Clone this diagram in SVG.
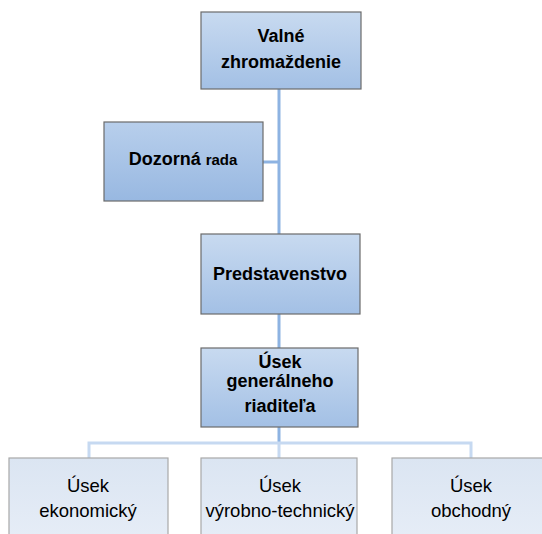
<svg xmlns="http://www.w3.org/2000/svg" width="542" height="534" viewBox="0 0 542 534">
<defs>
<linearGradient id="gTop" x1="0" y1="0" x2="0" y2="1">
<stop offset="0" stop-color="#c8daf0"/>
<stop offset="1" stop-color="#a3c0e5"/>
</linearGradient>
<linearGradient id="gDark" x1="0" y1="0" x2="0" y2="1">
<stop offset="0" stop-color="#b8cfec"/>
<stop offset="1" stop-color="#98b8e1"/>
</linearGradient>
<linearGradient id="gLight" x1="0" y1="0" x2="0" y2="1">
<stop offset="0" stop-color="#dbe5f2"/>
<stop offset="1" stop-color="#e6edf7"/>
</linearGradient>
</defs>
<style>
.top{fill:url(#gTop);stroke:#6b6b6b;stroke-width:1.2}
.dark{fill:url(#gDark);stroke:#6b6b6b;stroke-width:1.2}
.low{fill:url(#gLight);stroke:#a8a8a8;stroke-width:1.2}
.b{font-family:"Liberation Sans",Arial,sans-serif;font-weight:bold;font-size:18px;fill:#000;text-anchor:middle}
.r{font-family:"Liberation Sans",Arial,sans-serif;font-size:18.5px;fill:#000;text-anchor:middle}
.trunk{stroke:#8db3e2;stroke-width:3;fill:none}
.branch{stroke:#c6d9f1;stroke-width:3;fill:none}
</style>
<g id="connectors">
<path class="trunk" d="M279 89V234M263 162H279M279 314V348M279 427V443"/>
<path class="branch" d="M89 458V443H471V458M279 443V458"/>
</g>
<g id="valne">
<rect class="top" x="201" y="12" width="160" height="77"/>
<text class="b" x="281" y="42">Valné</text>
<text class="b" x="281" y="68">zhromaždenie</text>
</g>
<g id="dozorna">
<rect class="dark" x="104" y="122" width="159" height="79"/>
<text class="b" x="183" y="165">Dozorná <tspan font-size="15px">rada</tspan></text>
</g>
<g id="predstavenstvo">
<rect class="top" x="201" y="234" width="159" height="80"/>
<text class="b" x="280" y="280">Predstavenstvo</text>
</g>
<g id="riaditel">
<rect class="top" x="201" y="348" width="157" height="79"/>
<text class="b" x="280" y="368">Úsek</text>
<text class="b" x="280" y="387">generálneho</text>
<text class="b" x="280" y="412">riaditeľa</text>
</g>
<g id="ekonomicky">
<rect class="low" x="9" y="458" width="159" height="82"/>
<text class="r" x="88" y="492">Úsek</text>
<text class="r" x="88" y="517">ekonomický</text>
</g>
<g id="vyrobno">
<rect class="low" x="201" y="458" width="156" height="82"/>
<text class="r" x="280" y="492">Úsek</text>
<text class="r" x="280" y="517">výrobno-technický</text>
</g>
<g id="obchodny">
<rect class="low" x="392" y="458" width="158" height="82"/>
<text class="r" x="471" y="492">Úsek</text>
<text class="r" x="471" y="517">obchodný</text>
</g>
</svg>
